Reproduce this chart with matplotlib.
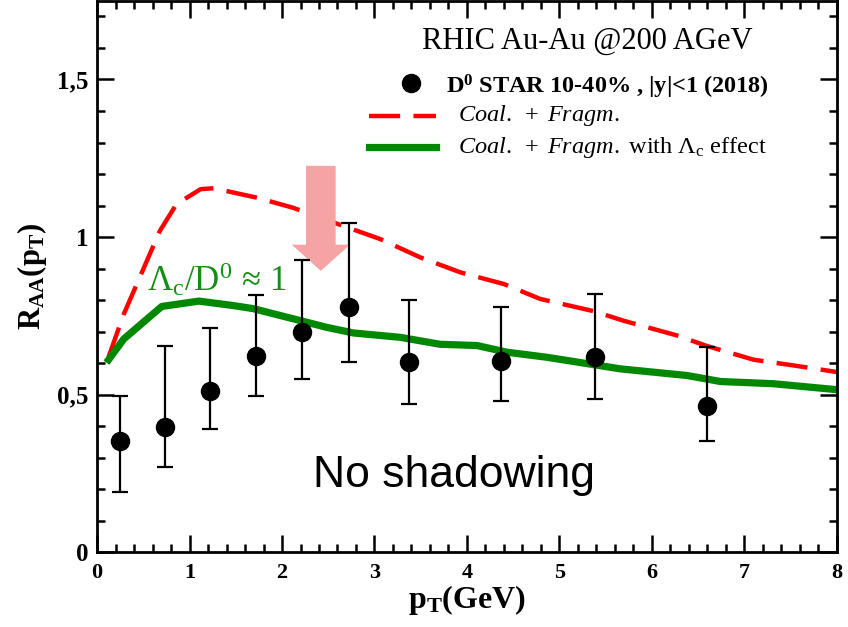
import matplotlib
matplotlib.use('Agg')
import matplotlib.pyplot as plt
from matplotlib.patches import FancyArrow

plt.rcParams['font.family'] = 'Liberation Serif'
plt.rcParams['mathtext.fontset'] = 'custom'
plt.rcParams['mathtext.rm'] = 'Liberation Serif'
plt.rcParams['mathtext.it'] = 'Liberation Serif:italic'
plt.rcParams['mathtext.bf'] = 'Liberation Serif:bold'

# STAR D0 data, 10-40%
pt_data = [0.25, 0.74, 1.225, 1.72, 2.215, 2.72, 3.37, 4.37, 5.38, 6.60]
raa_data = [0.352, 0.397, 0.511, 0.622, 0.700, 0.777, 0.603, 0.606, 0.621, 0.465]
err_hi = [0.496, 0.654, 0.712, 0.817, 0.927, 1.045, 0.800, 0.779, 0.820, 0.651]
err_lo = [0.190, 0.271, 0.392, 0.496, 0.551, 0.603, 0.471, 0.480, 0.485, 0.352]

# Coal. + Fragm.
pt_cf = [0.125, 0.29, 0.68, 0.86, 1.12, 1.26, 1.73, 2.12, 2.56, 3.06, 3.5, 3.93, 4.4, 4.79,
         5.37, 5.69, 6.27, 6.59, 7.10, 7.53, 8.0]
raa_cf = [0.62, 0.756, 1.02, 1.105, 1.152, 1.155, 1.125, 1.093, 1.046, 0.994, 0.935, 0.888,
          0.851, 0.804, 0.765, 0.735, 0.688, 0.655, 0.611, 0.593, 0.572]

# Coal. + Fragm. with Lambda_c effect
pt_lc = [0.125, 0.29, 0.70, 1.1, 1.47, 1.69, 2.2, 2.48, 2.77, 3.28, 3.71, 4.11, 4.43, 4.86,
         5.66, 6.38, 6.74, 7.31, 8.0]
raa_lc = [0.611, 0.677, 0.78, 0.797, 0.783, 0.773, 0.735, 0.714, 0.696, 0.682, 0.660, 0.656,
          0.635, 0.619, 0.582, 0.561, 0.542, 0.535, 0.516]

fig = plt.figure(figsize=(8.48, 6.27), dpi=100)
ax = fig.add_axes([0.1144, 0.119, 0.8726, 0.880])

ax.plot(pt_cf, raa_cf, color='red', lw=3.2, dashes=(7, 3))
ax.plot(pt_lc, raa_lc, color='#008800', lw=5.2)

yerr = [[r - l for r, l in zip(raa_data, err_lo)], [h - r for r, h in zip(raa_data, err_hi)]]
ax.errorbar(pt_data, raa_data, yerr=yerr, fmt='o', color='black', ms=13,
            elinewidth=1.6, capsize=6, capthick=1.6, zorder=5)

# pink arrow
ax.add_patch(FancyArrow(2.42, 1.226, 0, -0.333, width=0.32, head_width=0.63,
                        head_length=0.083, length_includes_head=True,
                        color='#F5A3A3', lw=0, zorder=2))

ax.text(0.54, 0.83, r'$\Lambda_{\rm c}/\mathrm{D}^{0}\,\approx\,1$', color='#138F13',
        fontsize=25, ha='left', va='baseline')
ax.text(3.86, 0.245, 'No shadowing', family='Liberation Sans', fontsize=32,
        ha='center', va='center')
ax.text(5.3, 1.62, 'RHIC Au-Au @200 AGeV', fontsize=22, ha='center', va='center')

# legend
ax.plot([3.39], [1.49], 'o', color='black', ms=13)
ax.text(3.77, 1.475, r'$\mathbf{D^{0}}$ STAR 10-40% , |y|<1 (2018)', fontsize=17.5,
        fontweight='bold', ha='left', va='center')
ax.plot([2.94, 3.66], [1.385, 1.385], color='red', lw=3.2, dashes=(7, 3))
ax.text(3.9, 1.385, r'$\mathit{Coal.}\ +\ \mathit{Fragm.}$', fontsize=17.5,
        ha='left', va='center')
ax.plot([2.94, 3.66], [1.285, 1.285], color='#008800', lw=5.2)
ax.text(3.9, 1.285, r'$\mathit{Coal.}\ +\ \mathit{Fragm.}$ with $\Lambda_{\rm c}$ effect',
        fontsize=17.5, ha='left', va='center')

ax.set_xlim(0, 8)
ax.set_ylim(0, 1.75)
ax.set_xticks(range(0, 9))
ax.set_yticks([0, 0.5, 1, 1.5])
ax.set_yticklabels(['0', '0,5', '1', '1,5'])
ax.set_xticks([i * 0.2 for i in range(41)], minor=True)
ax.set_yticks([i * 0.1 for i in range(18)], minor=True)
ax.tick_params(which='both', direction='in', top=True, right=True, width=1.8)
ax.tick_params(which='major', length=12)
ax.tick_params(which='minor', length=6)
ax.tick_params(axis='x', labelsize=16, pad=8)
ax.tick_params(axis='y', labelsize=18, pad=6)
for lab in ax.get_xticklabels() + ax.get_yticklabels():
    lab.set_fontweight('bold')
for s in ax.spines.values():
    s.set_linewidth(2)

ax.set_xlabel(r'$\mathbf{p_{T}}$(GeV)', fontsize=23, fontweight='bold', labelpad=0)
ax.set_ylabel(r'$\mathbf{R_{AA}(p_{T})}$', fontsize=22, fontweight='bold', labelpad=6)

fig.savefig('out.png', dpi=100)
